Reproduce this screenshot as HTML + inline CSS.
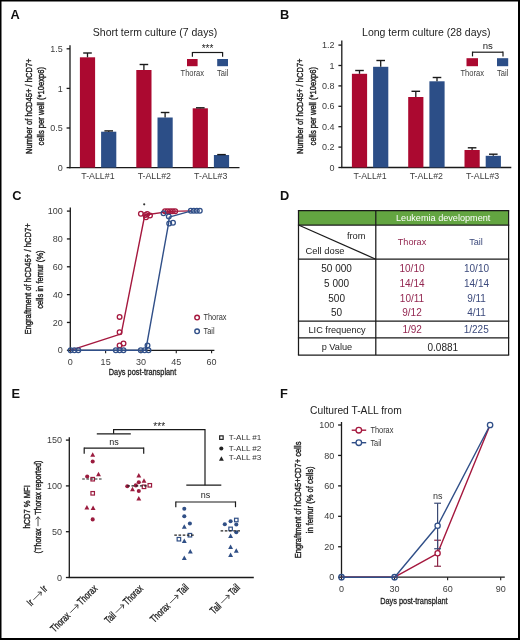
<!DOCTYPE html><html><head><meta charset="utf-8"><style>html,body{margin:0;padding:0;background:#fff;width:520px;height:640px;overflow:hidden}svg{display:block;font-family:"Liberation Sans", sans-serif;will-change:transform}</style></head><body>
<svg width="520" height="640" viewBox="0 0 520 640">
<rect x="0" y="0" width="520" height="640" fill="#fff"/>
<text transform="translate(10.6,19)" font-size="12.8" text-anchor="start" fill="#111" font-weight="bold" >A</text>
<text transform="translate(155,35.71)" font-size="10.5" text-anchor="middle" fill="#222" font-weight="normal" >Short term culture (7 days)</text>
<line x1="70" y1="45.3" x2="70" y2="168.2" stroke="#1a1a1a" stroke-width="1.3" />
<line x1="69.4" y1="167.6" x2="239.5" y2="167.6" stroke="#1a1a1a" stroke-width="1.3" />
<line x1="66.6" y1="48.8" x2="70" y2="48.8" stroke="#1a1a1a" stroke-width="1.3" />
<text transform="translate(62.7,51.9)" font-size="9" text-anchor="end" fill="#3c3c3c" font-weight="normal" >1.5</text>
<line x1="66.6" y1="88.4" x2="70" y2="88.4" stroke="#1a1a1a" stroke-width="1.3" />
<text transform="translate(62.7,91.5)" font-size="9" text-anchor="end" fill="#3c3c3c" font-weight="normal" >1</text>
<line x1="66.6" y1="128" x2="70" y2="128" stroke="#1a1a1a" stroke-width="1.3" />
<text transform="translate(62.7,131.1)" font-size="9" text-anchor="end" fill="#3c3c3c" font-weight="normal" >0.5</text>
<line x1="66.6" y1="167.6" x2="70" y2="167.6" stroke="#1a1a1a" stroke-width="1.3" />
<text transform="translate(62.7,170.7)" font-size="9" text-anchor="end" fill="#3c3c3c" font-weight="normal" >0</text>
<rect x="79.9" y="57.3" width="15.2" height="110.3" fill="#ab0930"/>
<line x1="87.5" y1="53" x2="87.5" y2="57.3" stroke="#1a1a1a" stroke-width="1.3" />
<line x1="83.2" y1="53" x2="91.8" y2="53" stroke="#1a1a1a" stroke-width="1.4" />
<rect x="101.1" y="131.7" width="15.2" height="35.9" fill="#2c4e87"/>
<line x1="108.7" y1="130.9" x2="108.7" y2="131.7" stroke="#1a1a1a" stroke-width="1.3" />
<line x1="104.4" y1="130.9" x2="113" y2="130.9" stroke="#1a1a1a" stroke-width="1.4" />
<rect x="136.3" y="70" width="15.2" height="97.6" fill="#ab0930"/>
<line x1="143.9" y1="64.5" x2="143.9" y2="70" stroke="#1a1a1a" stroke-width="1.3" />
<line x1="139.6" y1="64.5" x2="148.2" y2="64.5" stroke="#1a1a1a" stroke-width="1.4" />
<rect x="157.5" y="117.5" width="15.2" height="50.1" fill="#2c4e87"/>
<line x1="165.1" y1="112.5" x2="165.1" y2="117.5" stroke="#1a1a1a" stroke-width="1.3" />
<line x1="160.8" y1="112.5" x2="169.4" y2="112.5" stroke="#1a1a1a" stroke-width="1.4" />
<rect x="192.7" y="108.3" width="15.2" height="59.3" fill="#ab0930"/>
<line x1="200.3" y1="107.8" x2="200.3" y2="108.3" stroke="#1a1a1a" stroke-width="1.3" />
<line x1="196" y1="107.8" x2="204.6" y2="107.8" stroke="#1a1a1a" stroke-width="1.4" />
<rect x="213.9" y="155" width="15.2" height="12.6" fill="#2c4e87"/>
<line x1="221.5" y1="154.6" x2="221.5" y2="155" stroke="#1a1a1a" stroke-width="1.3" />
<line x1="217.2" y1="154.6" x2="225.8" y2="154.6" stroke="#1a1a1a" stroke-width="1.4" />
<text transform="translate(97.9,178.83)" font-size="8.8" text-anchor="middle" fill="#3c3c3c" font-weight="normal" >T-ALL#1</text>
<text transform="translate(154.3,178.83)" font-size="8.8" text-anchor="middle" fill="#3c3c3c" font-weight="normal" >T-ALL#2</text>
<text transform="translate(210.7,178.83)" font-size="8.8" text-anchor="middle" fill="#3c3c3c" font-weight="normal" >T-ALL#3</text>
<rect x="187" y="59" width="10.6" height="7.2" fill="#ab0930"/>
<rect x="217.2" y="59" width="10.8" height="7.2" fill="#2c4e87"/>
<text transform="translate(192.3,76.16) scale(0.88,1)" font-size="8.6" text-anchor="middle" fill="#3c3c3c" font-weight="normal" >Thorax</text>
<text transform="translate(222.6,76.16) scale(0.88,1)" font-size="8.6" text-anchor="middle" fill="#3c3c3c" font-weight="normal" >Tail</text>
<line x1="192.4" y1="52.5" x2="222.6" y2="52.5" stroke="#1a1a1a" stroke-width="1.2" />
<line x1="192.4" y1="51.9" x2="192.4" y2="56.8" stroke="#1a1a1a" stroke-width="1.2" />
<line x1="222.6" y1="51.9" x2="222.6" y2="56.8" stroke="#1a1a1a" stroke-width="1.2" />
<text transform="translate(207.5,51.84)" font-size="10" text-anchor="middle" fill="#222" font-weight="normal" >***</text>
<g class="" transform="translate(32.1,106.2) rotate(-90) scale(0.79,1)" fill="#222">
<text x="-60.56" y="0" font-size="9.6" stroke="#222" stroke-width="0.4">Number of hCD45+ / hCD7+</text>
</g>
<g class="" transform="translate(44.1,106.2) rotate(-90) scale(0.79,1)" fill="#222">
<text x="-49.62" y="0" font-size="9.6" stroke="#222" stroke-width="0.4">cells per well (*10exp6)</text>
</g>
<text transform="translate(280,18.8)" font-size="12.8" text-anchor="start" fill="#111" font-weight="bold" >B</text>
<text transform="translate(426.3,35.71)" font-size="10.5" text-anchor="middle" fill="#222" font-weight="normal" >Long term culture (28 days)</text>
<line x1="341.8" y1="40.5" x2="341.8" y2="168.1" stroke="#1a1a1a" stroke-width="1.3" />
<line x1="341.2" y1="167.5" x2="511.3" y2="167.5" stroke="#1a1a1a" stroke-width="1.3" />
<line x1="338.4" y1="45.1" x2="341.8" y2="45.1" stroke="#1a1a1a" stroke-width="1.3" />
<text transform="translate(334.5,48.2)" font-size="9" text-anchor="end" fill="#3c3c3c" font-weight="normal" >1.2</text>
<line x1="338.4" y1="65.5" x2="341.8" y2="65.5" stroke="#1a1a1a" stroke-width="1.3" />
<text transform="translate(334.5,68.6)" font-size="9" text-anchor="end" fill="#3c3c3c" font-weight="normal" >1</text>
<line x1="338.4" y1="85.9" x2="341.8" y2="85.9" stroke="#1a1a1a" stroke-width="1.3" />
<text transform="translate(334.5,89)" font-size="9" text-anchor="end" fill="#3c3c3c" font-weight="normal" >0.8</text>
<line x1="338.4" y1="106.3" x2="341.8" y2="106.3" stroke="#1a1a1a" stroke-width="1.3" />
<text transform="translate(334.5,109.4)" font-size="9" text-anchor="end" fill="#3c3c3c" font-weight="normal" >0.6</text>
<line x1="338.4" y1="126.7" x2="341.8" y2="126.7" stroke="#1a1a1a" stroke-width="1.3" />
<text transform="translate(334.5,129.8)" font-size="9" text-anchor="end" fill="#3c3c3c" font-weight="normal" >0.4</text>
<line x1="338.4" y1="147.1" x2="341.8" y2="147.1" stroke="#1a1a1a" stroke-width="1.3" />
<text transform="translate(334.5,150.2)" font-size="9" text-anchor="end" fill="#3c3c3c" font-weight="normal" >0.2</text>
<line x1="338.4" y1="167.5" x2="341.8" y2="167.5" stroke="#1a1a1a" stroke-width="1.3" />
<text transform="translate(334.5,170.6)" font-size="9" text-anchor="end" fill="#3c3c3c" font-weight="normal" >0</text>
<rect x="351.9" y="73.8" width="15.2" height="93.7" fill="#ab0930"/>
<line x1="359.5" y1="70.5" x2="359.5" y2="73.8" stroke="#1a1a1a" stroke-width="1.3" />
<line x1="355.2" y1="70.5" x2="363.8" y2="70.5" stroke="#1a1a1a" stroke-width="1.4" />
<rect x="373.1" y="66.8" width="15.2" height="100.7" fill="#2c4e87"/>
<line x1="380.7" y1="60.5" x2="380.7" y2="66.8" stroke="#1a1a1a" stroke-width="1.3" />
<line x1="376.4" y1="60.5" x2="385" y2="60.5" stroke="#1a1a1a" stroke-width="1.4" />
<rect x="408.2" y="97" width="15.2" height="70.5" fill="#ab0930"/>
<line x1="415.8" y1="91.3" x2="415.8" y2="97" stroke="#1a1a1a" stroke-width="1.3" />
<line x1="411.5" y1="91.3" x2="420.1" y2="91.3" stroke="#1a1a1a" stroke-width="1.4" />
<rect x="429.4" y="81.3" width="15.2" height="86.2" fill="#2c4e87"/>
<line x1="437" y1="77.5" x2="437" y2="81.3" stroke="#1a1a1a" stroke-width="1.3" />
<line x1="432.7" y1="77.5" x2="441.3" y2="77.5" stroke="#1a1a1a" stroke-width="1.4" />
<rect x="464.5" y="150" width="15.2" height="17.5" fill="#ab0930"/>
<line x1="472.1" y1="147.8" x2="472.1" y2="150" stroke="#1a1a1a" stroke-width="1.3" />
<line x1="467.8" y1="147.8" x2="476.4" y2="147.8" stroke="#1a1a1a" stroke-width="1.4" />
<rect x="485.7" y="155.8" width="15.2" height="11.7" fill="#2c4e87"/>
<line x1="493.3" y1="154.2" x2="493.3" y2="155.8" stroke="#1a1a1a" stroke-width="1.3" />
<line x1="489" y1="154.2" x2="497.6" y2="154.2" stroke="#1a1a1a" stroke-width="1.4" />
<text transform="translate(370,178.83)" font-size="8.8" text-anchor="middle" fill="#3c3c3c" font-weight="normal" >T-ALL#1</text>
<text transform="translate(426.3,178.83)" font-size="8.8" text-anchor="middle" fill="#3c3c3c" font-weight="normal" >T-ALL#2</text>
<text transform="translate(482.6,178.83)" font-size="8.8" text-anchor="middle" fill="#3c3c3c" font-weight="normal" >T-ALL#3</text>
<rect x="466.5" y="58.2" width="11.5" height="8" fill="#ab0930"/>
<rect x="497" y="58.2" width="11.2" height="8" fill="#2c4e87"/>
<text transform="translate(472.25,75.56) scale(0.88,1)" font-size="8.6" text-anchor="middle" fill="#3c3c3c" font-weight="normal" >Thorax</text>
<text transform="translate(502.6,75.56) scale(0.88,1)" font-size="8.6" text-anchor="middle" fill="#3c3c3c" font-weight="normal" >Tail</text>
<line x1="472.5" y1="52.2" x2="503" y2="52.2" stroke="#1a1a1a" stroke-width="1.2" />
<line x1="472.5" y1="51.6" x2="472.5" y2="56.4" stroke="#1a1a1a" stroke-width="1.2" />
<line x1="503" y1="51.6" x2="503" y2="56.4" stroke="#1a1a1a" stroke-width="1.2" />
<text transform="translate(487.75,48.73)" font-size="9.6" text-anchor="middle" fill="#222" font-weight="normal" >ns</text>
<g class="" transform="translate(303.1,106.2) rotate(-90) scale(0.79,1)" fill="#222">
<text x="-60.56" y="0" font-size="9.6" stroke="#222" stroke-width="0.4">Number of hCD45+ / hCD7+</text>
</g>
<g class="" transform="translate(316.1,106.2) rotate(-90) scale(0.79,1)" fill="#222">
<text x="-49.62" y="0" font-size="9.6" stroke="#222" stroke-width="0.4">cells per well (*10exp6)</text>
</g>
<text transform="translate(12.2,200)" font-size="12.8" text-anchor="start" fill="#111" font-weight="bold" >C</text>
<line x1="70.3" y1="207.4" x2="70.3" y2="350.9" stroke="#1a1a1a" stroke-width="1.3" />
<line x1="69.7" y1="350.3" x2="214.4" y2="350.3" stroke="#1a1a1a" stroke-width="1.3" />
<line x1="66.9" y1="350.3" x2="70.3" y2="350.3" stroke="#1a1a1a" stroke-width="1.3" />
<text transform="translate(62.7,353.4)" font-size="9" text-anchor="end" fill="#3c3c3c" font-weight="normal" >0</text>
<line x1="66.9" y1="322.46" x2="70.3" y2="322.46" stroke="#1a1a1a" stroke-width="1.3" />
<text transform="translate(62.7,325.56)" font-size="9" text-anchor="end" fill="#3c3c3c" font-weight="normal" >20</text>
<line x1="66.9" y1="294.62" x2="70.3" y2="294.62" stroke="#1a1a1a" stroke-width="1.3" />
<text transform="translate(62.7,297.72)" font-size="9" text-anchor="end" fill="#3c3c3c" font-weight="normal" >40</text>
<line x1="66.9" y1="266.78" x2="70.3" y2="266.78" stroke="#1a1a1a" stroke-width="1.3" />
<text transform="translate(62.7,269.88)" font-size="9" text-anchor="end" fill="#3c3c3c" font-weight="normal" >60</text>
<line x1="66.9" y1="238.94" x2="70.3" y2="238.94" stroke="#1a1a1a" stroke-width="1.3" />
<text transform="translate(62.7,242.04)" font-size="9" text-anchor="end" fill="#3c3c3c" font-weight="normal" >80</text>
<line x1="66.9" y1="211.1" x2="70.3" y2="211.1" stroke="#1a1a1a" stroke-width="1.3" />
<text transform="translate(62.7,214.2)" font-size="9" text-anchor="end" fill="#3c3c3c" font-weight="normal" >100</text>
<line x1="70.3" y1="350.3" x2="70.3" y2="353.3" stroke="#1a1a1a" stroke-width="1.1" />
<text transform="translate(70.3,364.7)" font-size="9" text-anchor="middle" fill="#3c3c3c" font-weight="normal" >0</text>
<line x1="105.62" y1="350.3" x2="105.62" y2="353.3" stroke="#1a1a1a" stroke-width="1.1" />
<text transform="translate(105.62,364.7)" font-size="9" text-anchor="middle" fill="#3c3c3c" font-weight="normal" >15</text>
<line x1="140.95" y1="350.3" x2="140.95" y2="353.3" stroke="#1a1a1a" stroke-width="1.1" />
<text transform="translate(140.95,364.7)" font-size="9" text-anchor="middle" fill="#3c3c3c" font-weight="normal" >30</text>
<line x1="176.27" y1="350.3" x2="176.27" y2="353.3" stroke="#1a1a1a" stroke-width="1.1" />
<text transform="translate(176.27,364.7)" font-size="9" text-anchor="middle" fill="#3c3c3c" font-weight="normal" >45</text>
<line x1="211.6" y1="350.3" x2="211.6" y2="353.3" stroke="#1a1a1a" stroke-width="1.1" />
<text transform="translate(211.6,364.7)" font-size="9" text-anchor="middle" fill="#3c3c3c" font-weight="normal" >60</text>
<text transform="translate(142.5,374.76) scale(0.8,1)" font-size="9.2" text-anchor="middle" fill="#222" font-weight="normal"  stroke="#222" stroke-width="0.3">Days post-transplant</text>
<g class="" transform="translate(30.8,278.9) rotate(-90) scale(0.8,1)" fill="#222">
<text x="-69.64" y="0" font-size="9.6" stroke="#222" stroke-width="0.4">Engraftment of hCD45+ / hCD7+</text>
</g>
<g class="" transform="translate(43.2,279.6) rotate(-90) scale(0.79,1)" fill="#222">
<text x="-37.07" y="0" font-size="9.6" stroke="#222" stroke-width="0.4">cells in femur (%)</text>
</g>
<polyline points="70.3,350.3 121.2,333.8 144.8,215 170,211.4 191.5,210.9" fill="none" stroke="#a5183e" stroke-width="1.4" stroke-linejoin="round"/>
<polyline points="70.3,350.3 145,350.3 146,348.8 168.6,223.3 169.2,217.2 191.5,210.9" fill="none" stroke="#304f88" stroke-width="1.4" stroke-linejoin="round"/>
<circle cx="119.6" cy="316.9" r="2.35" fill="none" stroke="#a5183e" stroke-width="1.3"/>
<circle cx="119.6" cy="332.3" r="2.35" fill="none" stroke="#a5183e" stroke-width="1.3"/>
<circle cx="119.6" cy="345.4" r="2.35" fill="none" stroke="#a5183e" stroke-width="1.3"/>
<circle cx="123.5" cy="343.5" r="2.35" fill="none" stroke="#a5183e" stroke-width="1.3"/>
<circle cx="140.9" cy="213.8" r="2.35" fill="none" stroke="#a5183e" stroke-width="1.3"/>
<circle cx="145.4" cy="215" r="2.35" fill="none" stroke="#a5183e" stroke-width="1.3"/>
<circle cx="147.2" cy="214" r="2.35" fill="none" stroke="#a5183e" stroke-width="1.3"/>
<circle cx="150" cy="215.6" r="2.35" fill="none" stroke="#a5183e" stroke-width="1.3"/>
<circle cx="146" cy="217.2" r="2.35" fill="none" stroke="#a5183e" stroke-width="1.3"/>
<circle cx="165" cy="211.2" r="2.35" fill="none" stroke="#a5183e" stroke-width="1.3"/>
<circle cx="167.6" cy="211.2" r="2.35" fill="none" stroke="#a5183e" stroke-width="1.3"/>
<circle cx="170.2" cy="211.2" r="2.35" fill="none" stroke="#a5183e" stroke-width="1.3"/>
<circle cx="172.8" cy="211.2" r="2.35" fill="none" stroke="#a5183e" stroke-width="1.3"/>
<circle cx="175.2" cy="211.2" r="2.35" fill="none" stroke="#a5183e" stroke-width="1.3"/>
<circle cx="70.6" cy="350.3" r="2.35" fill="none" stroke="#304f88" stroke-width="1.3"/>
<circle cx="74.4" cy="350.3" r="2.35" fill="none" stroke="#304f88" stroke-width="1.3"/>
<circle cx="78.3" cy="350.3" r="2.35" fill="none" stroke="#304f88" stroke-width="1.3"/>
<circle cx="115.8" cy="350.3" r="2.35" fill="none" stroke="#304f88" stroke-width="1.3"/>
<circle cx="119.6" cy="350.3" r="2.35" fill="none" stroke="#304f88" stroke-width="1.3"/>
<circle cx="123.5" cy="350.3" r="2.35" fill="none" stroke="#304f88" stroke-width="1.3"/>
<circle cx="140.8" cy="350.3" r="2.35" fill="none" stroke="#304f88" stroke-width="1.3"/>
<circle cx="144.6" cy="350.3" r="2.35" fill="none" stroke="#304f88" stroke-width="1.3"/>
<circle cx="148.5" cy="350.3" r="2.35" fill="none" stroke="#304f88" stroke-width="1.3"/>
<circle cx="147.5" cy="345.4" r="2.35" fill="none" stroke="#304f88" stroke-width="1.3"/>
<circle cx="163.5" cy="213.2" r="2.35" fill="none" stroke="#304f88" stroke-width="1.3"/>
<circle cx="168.8" cy="216.5" r="2.35" fill="none" stroke="#304f88" stroke-width="1.3"/>
<circle cx="169.2" cy="223.5" r="2.35" fill="none" stroke="#304f88" stroke-width="1.3"/>
<circle cx="173" cy="222.7" r="2.35" fill="none" stroke="#304f88" stroke-width="1.3"/>
<circle cx="190.8" cy="210.8" r="2.35" fill="none" stroke="#304f88" stroke-width="1.3"/>
<circle cx="193.8" cy="210.8" r="2.35" fill="none" stroke="#304f88" stroke-width="1.3"/>
<circle cx="196.8" cy="210.8" r="2.35" fill="none" stroke="#304f88" stroke-width="1.3"/>
<circle cx="199.8" cy="210.8" r="2.35" fill="none" stroke="#304f88" stroke-width="1.3"/>
<circle cx="144.2" cy="204.3" r="1.1" fill="#333"/>
<circle cx="197.1" cy="317.6" r="2.3" fill="none" stroke="#a5183e" stroke-width="1.4"/>
<text transform="translate(203.5,320.09) scale(0.88,1)" font-size="8.4" text-anchor="start" fill="#333" font-weight="normal" >Thorax</text>
<circle cx="197.1" cy="331.3" r="2.3" fill="none" stroke="#304f88" stroke-width="1.4"/>
<text transform="translate(203.5,334.09) scale(0.88,1)" font-size="8.4" text-anchor="start" fill="#333" font-weight="normal" >Tail</text>
<text transform="translate(280,200)" font-size="12.8" text-anchor="start" fill="#111" font-weight="bold" >D</text>
<rect x="298.5" y="210.5" width="210.1" height="14.5" fill="#63a541"/>
<line x1="297.9" y1="210.5" x2="509.2" y2="210.5" stroke="#1a1a1a" stroke-width="1.25" />
<line x1="297.9" y1="225" x2="509.2" y2="225" stroke="#1a1a1a" stroke-width="1.25" />
<line x1="297.9" y1="259.2" x2="509.2" y2="259.2" stroke="#1a1a1a" stroke-width="1.25" />
<line x1="297.9" y1="321.1" x2="509.2" y2="321.1" stroke="#1a1a1a" stroke-width="1.25" />
<line x1="297.9" y1="337.8" x2="509.2" y2="337.8" stroke="#1a1a1a" stroke-width="1.25" />
<line x1="297.9" y1="355" x2="509.2" y2="355" stroke="#1a1a1a" stroke-width="1.25" />
<line x1="298.5" y1="210.5" x2="298.5" y2="355" stroke="#1a1a1a" stroke-width="1.25" />
<line x1="508.6" y1="210.5" x2="508.6" y2="355" stroke="#1a1a1a" stroke-width="1.25" />
<line x1="375.8" y1="210.5" x2="375.8" y2="355" stroke="#1a1a1a" stroke-width="1.25" />
<line x1="298.5" y1="225" x2="375.8" y2="259.2" stroke="#1a1a1a" stroke-width="1.25" />
<text transform="translate(443.2,220.55)" font-size="9.15" text-anchor="middle" fill="#fff" font-weight="normal" >Leukemia development</text>
<text transform="translate(356.2,238.6)" font-size="9.3" text-anchor="middle" fill="#222" font-weight="normal" >from</text>
<text transform="translate(325,254.13)" font-size="9.4" text-anchor="middle" fill="#222" font-weight="normal" >Cell dose</text>
<text transform="translate(412,245.35)" font-size="9.15" text-anchor="middle" fill="#932650" font-weight="normal" >Thorax</text>
<text transform="translate(476,245.35)" font-size="9.15" text-anchor="middle" fill="#3c4a7c" font-weight="normal" >Tail</text>
<text transform="translate(336.6,272.44)" font-size="10" text-anchor="middle" fill="#222" font-weight="normal" >50 000</text>
<text transform="translate(412,272.44)" font-size="10" text-anchor="middle" fill="#932650" font-weight="normal" >10/10</text>
<text transform="translate(476.5,272.44)" font-size="10" text-anchor="middle" fill="#3c4a7c" font-weight="normal" >10/10</text>
<text transform="translate(336.6,287.04)" font-size="10" text-anchor="middle" fill="#222" font-weight="normal" >5 000</text>
<text transform="translate(412,287.04)" font-size="10" text-anchor="middle" fill="#932650" font-weight="normal" >14/14</text>
<text transform="translate(476.5,287.04)" font-size="10" text-anchor="middle" fill="#3c4a7c" font-weight="normal" >14/14</text>
<text transform="translate(336.6,301.74)" font-size="10" text-anchor="middle" fill="#222" font-weight="normal" >500</text>
<text transform="translate(412,301.74)" font-size="10" text-anchor="middle" fill="#932650" font-weight="normal" >10/11</text>
<text transform="translate(476.5,301.74)" font-size="10" text-anchor="middle" fill="#3c4a7c" font-weight="normal" >9/11</text>
<text transform="translate(336.6,315.74)" font-size="10" text-anchor="middle" fill="#222" font-weight="normal" >50</text>
<text transform="translate(412,315.74)" font-size="10" text-anchor="middle" fill="#932650" font-weight="normal" >9/12</text>
<text transform="translate(476.5,315.74)" font-size="10" text-anchor="middle" fill="#3c4a7c" font-weight="normal" >4/11</text>
<text transform="translate(337.1,332.56)" font-size="9.2" text-anchor="middle" fill="#222" font-weight="normal" >LIC frequency</text>
<text transform="translate(412.2,333.44)" font-size="10" text-anchor="middle" fill="#932650" font-weight="normal" >1/92</text>
<text transform="translate(476.2,333.44)" font-size="10" text-anchor="middle" fill="#3c4a7c" font-weight="normal" >1/225</text>
<text transform="translate(336.9,350.16)" font-size="9.2" text-anchor="middle" fill="#222" font-weight="normal" >p Value</text>
<text transform="translate(442.8,351.24)" font-size="10" text-anchor="middle" fill="#222" font-weight="normal" >0.0881</text>
<text transform="translate(11.4,398.2)" font-size="12.8" text-anchor="start" fill="#111" font-weight="bold" >E</text>
<line x1="69.3" y1="437.3" x2="69.3" y2="578.1" stroke="#1a1a1a" stroke-width="1.3" />
<line x1="68.7" y1="577.5" x2="253.8" y2="577.5" stroke="#1a1a1a" stroke-width="1.3" />
<line x1="65.9" y1="577.5" x2="69.3" y2="577.5" stroke="#1a1a1a" stroke-width="1.3" />
<text transform="translate(62,580.6)" font-size="9" text-anchor="end" fill="#3c3c3c" font-weight="normal" >0</text>
<line x1="65.9" y1="531.7" x2="69.3" y2="531.7" stroke="#1a1a1a" stroke-width="1.3" />
<text transform="translate(62,534.8)" font-size="9" text-anchor="end" fill="#3c3c3c" font-weight="normal" >50</text>
<line x1="65.9" y1="485.9" x2="69.3" y2="485.9" stroke="#1a1a1a" stroke-width="1.3" />
<text transform="translate(62,489)" font-size="9" text-anchor="end" fill="#3c3c3c" font-weight="normal" >100</text>
<line x1="65.9" y1="440.1" x2="69.3" y2="440.1" stroke="#1a1a1a" stroke-width="1.3" />
<text transform="translate(62,443.2)" font-size="9" text-anchor="end" fill="#3c3c3c" font-weight="normal" >150</text>
<g class="" transform="translate(29.7,506.9) rotate(-90) scale(0.79,1)" fill="#222">
<text x="-27.47" y="0" font-size="9.6" stroke="#222" stroke-width="0.4">hCD7 % MFI</text>
</g>
<g class="" transform="translate(40.9,506.9) rotate(-90) scale(0.76,1)" fill="#222">
<text x="-61.17" y="0" font-size="9.6" stroke="#222" stroke-width="0.4">(Thorax</text>
<path d="M-25.46,-2.88 H-12.96 M-16.38,-5.28 L-12.96,-2.88 L-16.38,-0.48" fill="none" stroke="#222" stroke-width="0.9"/>
<text x="-10.33" y="0" font-size="9.6" stroke="#222" stroke-width="0.4">Thorax reported)</text>
</g>
<line x1="96.8" y1="433.8" x2="130.8" y2="433.8" stroke="#1a1a1a" stroke-width="1.2" />
<line x1="113.6" y1="433.8" x2="113.6" y2="429.6" stroke="#1a1a1a" stroke-width="1.2" />
<line x1="113" y1="429.6" x2="205" y2="429.6" stroke="#1a1a1a" stroke-width="1.2" />
<line x1="205" y1="429" x2="205" y2="485.2" stroke="#1a1a1a" stroke-width="1.2" />
<line x1="186.3" y1="485.2" x2="221.3" y2="485.2" stroke="#1a1a1a" stroke-width="1.2" />
<text transform="translate(159.2,429.74)" font-size="10" text-anchor="middle" fill="#222" font-weight="normal" >***</text>
<line x1="84.2" y1="448.2" x2="143.7" y2="448.2" stroke="#1a1a1a" stroke-width="1.2" />
<line x1="84.2" y1="447.6" x2="84.2" y2="453.8" stroke="#1a1a1a" stroke-width="1.2" />
<line x1="143.7" y1="447.6" x2="143.7" y2="453.8" stroke="#1a1a1a" stroke-width="1.2" />
<text transform="translate(114,444.58)" font-size="9" text-anchor="middle" fill="#222" font-weight="normal" >ns</text>
<line x1="175.8" y1="502" x2="235.5" y2="502" stroke="#1a1a1a" stroke-width="1.2" />
<line x1="175.8" y1="501.4" x2="175.8" y2="507.2" stroke="#1a1a1a" stroke-width="1.2" />
<line x1="235.5" y1="501.4" x2="235.5" y2="507.2" stroke="#1a1a1a" stroke-width="1.2" />
<text transform="translate(205.5,497.98)" font-size="9" text-anchor="middle" fill="#222" font-weight="normal" >ns</text>
<polygon points="92.7,452.3 95.15,456.8 90.25,456.8" fill="#9b1b3e"/>
<circle cx="92.7" cy="461.5" r="2.05" fill="#9b1b3e"/>
<circle cx="87.2" cy="476.5" r="2.05" fill="#9b1b3e"/>
<polygon points="98.5,471.7 100.95,476.2 96.05,476.2" fill="#9b1b3e"/>
<rect x="90.95" y="477.45" width="3.5" height="3.5" fill="#fff" stroke="#9b1b3e" stroke-width="1.2"/>
<rect x="90.95" y="491.55" width="3.5" height="3.5" fill="#fff" stroke="#9b1b3e" stroke-width="1.2"/>
<polygon points="86.9,505 89.35,509.5 84.45,509.5" fill="#9b1b3e"/>
<polygon points="93.1,505.5 95.55,510 90.65,510" fill="#9b1b3e"/>
<circle cx="92.7" cy="519.4" r="2.05" fill="#9b1b3e"/>
<polygon points="138.8,472.9 141.25,477.4 136.35,477.4" fill="#9b1b3e"/>
<circle cx="138.8" cy="482.3" r="2.05" fill="#9b1b3e"/>
<polygon points="144,478.3 146.45,482.8 141.55,482.8" fill="#9b1b3e"/>
<circle cx="127.3" cy="486.2" r="2.05" fill="#9b1b3e"/>
<circle cx="135.8" cy="485.4" r="2.05" fill="#9b1b3e"/>
<polygon points="132.5,486.7 134.95,491.2 130.05,491.2" fill="#9b1b3e"/>
<rect x="142.25" y="485.05" width="3.5" height="3.5" fill="#fff" stroke="#9b1b3e" stroke-width="1.2"/>
<rect x="148.05" y="483.55" width="3.5" height="3.5" fill="#fff" stroke="#9b1b3e" stroke-width="1.2"/>
<circle cx="138.8" cy="491" r="2.05" fill="#9b1b3e"/>
<polygon points="138.8,496 141.25,500.5 136.35,500.5" fill="#9b1b3e"/>
<circle cx="184.3" cy="508.7" r="2.05" fill="#304f86"/>
<circle cx="184.3" cy="516.2" r="2.05" fill="#304f86"/>
<circle cx="189.9" cy="523.5" r="2.05" fill="#304f86"/>
<polygon points="184.3,524.3 186.75,528.8 181.85,528.8" fill="#304f86"/>
<rect x="188.15" y="533.45" width="3.5" height="3.5" fill="#fff" stroke="#304f86" stroke-width="1.2"/>
<rect x="177.15" y="537.45" width="3.5" height="3.5" fill="#fff" stroke="#304f86" stroke-width="1.2"/>
<polygon points="184.3,538.6 186.75,543.1 181.85,543.1" fill="#304f86"/>
<polygon points="190.3,549.1 192.75,553.6 187.85,553.6" fill="#304f86"/>
<polygon points="184.3,555.5 186.75,560 181.85,560" fill="#304f86"/>
<circle cx="224.8" cy="524.2" r="2.05" fill="#304f86"/>
<circle cx="230.6" cy="521.2" r="2.05" fill="#304f86"/>
<rect x="234.55" y="518.25" width="3.5" height="3.5" fill="#fff" stroke="#304f86" stroke-width="1.2"/>
<circle cx="236.3" cy="524.5" r="2.05" fill="#304f86"/>
<rect x="228.85" y="527.15" width="3.5" height="3.5" fill="#fff" stroke="#304f86" stroke-width="1.2"/>
<circle cx="236.3" cy="532.2" r="2.05" fill="#304f86"/>
<polygon points="230.6,533.5 233.05,538 228.15,538" fill="#304f86"/>
<polygon points="230.6,544.4 233.05,548.9 228.15,548.9" fill="#304f86"/>
<polygon points="236.3,548.3 238.75,552.8 233.85,552.8" fill="#304f86"/>
<polygon points="230.6,552.5 233.05,557 228.15,557" fill="#304f86"/>
<line x1="82.2" y1="479" x2="102.8" y2="479" stroke="#222" stroke-width="1.2" stroke-dasharray="2.6,1.6"/>
<line x1="127.3" y1="485.8" x2="147.2" y2="485.8" stroke="#222" stroke-width="1.2" stroke-dasharray="2.6,1.6"/>
<line x1="174.3" y1="535.2" x2="194.8" y2="535.2" stroke="#222" stroke-width="1.2" stroke-dasharray="2.6,1.6"/>
<line x1="220.6" y1="530.9" x2="240.6" y2="530.9" stroke="#222" stroke-width="1.2" stroke-dasharray="2.6,1.6"/>
<rect x="219.65" y="435.85" width="3.5" height="3.5" fill="#fff" stroke="#222" stroke-width="1.2"/>
<circle cx="221.3" cy="448.5" r="2.05" fill="#222"/>
<polygon points="221.4,456.3 223.85,460.8 218.95,460.8" fill="#222"/>
<text transform="translate(228.8,440.19)" font-size="8.1" text-anchor="start" fill="#333" font-weight="normal" >T-ALL #1</text>
<text transform="translate(228.8,450.99)" font-size="8.1" text-anchor="start" fill="#333" font-weight="normal" >T-ALL #2</text>
<text transform="translate(228.8,460.49)" font-size="8.1" text-anchor="start" fill="#333" font-weight="normal" >T-ALL #3</text>
<g class="rl rl0" transform="translate(48.1,589.6) rotate(-45) scale(0.72,1)" fill="#222">
<text x="-33.54" y="0" font-size="10.4" stroke="#222" stroke-width="0.3">Ir</text>
<path d="M-24.41,-3.12 H-9.13 M-12.74,-5.52 L-9.13,-3.12 L-12.74,-0.72" fill="none" stroke="#222" stroke-width="0.9"/>
<text x="-6.35" y="0" font-size="10.4" stroke="#222" stroke-width="0.3">Ir</text>
</g>
<g class="rl rl1" transform="translate(98.1,589.2) rotate(-45) scale(0.72,1)" fill="#222">
<text x="-85.57" y="0" font-size="10.4" stroke="#222" stroke-width="0.3">Thorax</text>
<path d="M-50.42,-3.12 H-35.15 M-38.76,-5.52 L-35.15,-3.12 L-38.76,-0.72" fill="none" stroke="#222" stroke-width="0.9"/>
<text x="-32.37" y="0" font-size="10.4" stroke="#222" stroke-width="0.3">Thorax</text>
</g>
<g class="rl rl2" transform="translate(143.7,589.2) rotate(-45) scale(0.72,1)" fill="#222">
<text x="-68.81" y="0" font-size="10.4" stroke="#222" stroke-width="0.3">Tail</text>
<path d="M-50.42,-3.12 H-35.15 M-38.76,-5.52 L-35.15,-3.12 L-38.76,-0.72" fill="none" stroke="#222" stroke-width="0.9"/>
<text x="-32.37" y="0" font-size="10.4" stroke="#222" stroke-width="0.3">Thorax</text>
</g>
<g class="rl rl3" transform="translate(189.4,588.2) rotate(-45) scale(0.72,1)" fill="#222">
<text x="-68.81" y="0" font-size="10.4" stroke="#222" stroke-width="0.3">Thorax</text>
<path d="M-33.66,-3.12 H-18.38 M-21.99,-5.52 L-18.38,-3.12 L-21.99,-0.72" fill="none" stroke="#222" stroke-width="0.9"/>
<text x="-15.61" y="0" font-size="10.4" stroke="#222" stroke-width="0.3">Tail</text>
</g>
<g class="rl rl4" transform="translate(240.6,588.2) rotate(-45) scale(0.72,1)" fill="#222">
<text x="-52.04" y="0" font-size="10.4" stroke="#222" stroke-width="0.3">Tail</text>
<path d="M-33.66,-3.12 H-18.38 M-21.99,-5.52 L-18.38,-3.12 L-21.99,-0.72" fill="none" stroke="#222" stroke-width="0.9"/>
<text x="-15.61" y="0" font-size="10.4" stroke="#222" stroke-width="0.3">Tail</text>
</g>
<text transform="translate(280,398.2)" font-size="12.8" text-anchor="start" fill="#111" font-weight="bold" >F</text>
<text transform="translate(355.9,413.83)" font-size="10.25" text-anchor="middle" fill="#222" font-weight="normal" >Cultured T-ALL from</text>
<line x1="341.5" y1="422" x2="341.5" y2="577.8" stroke="#1a1a1a" stroke-width="1.3" />
<line x1="340.9" y1="577.2" x2="504.8" y2="577.2" stroke="#1a1a1a" stroke-width="1.3" />
<line x1="338.1" y1="577.2" x2="341.5" y2="577.2" stroke="#1a1a1a" stroke-width="1.3" />
<text transform="translate(334.2,580.3)" font-size="9" text-anchor="end" fill="#3c3c3c" font-weight="normal" >0</text>
<line x1="338.1" y1="546.76" x2="341.5" y2="546.76" stroke="#1a1a1a" stroke-width="1.3" />
<text transform="translate(334.2,549.86)" font-size="9" text-anchor="end" fill="#3c3c3c" font-weight="normal" >20</text>
<line x1="338.1" y1="516.32" x2="341.5" y2="516.32" stroke="#1a1a1a" stroke-width="1.3" />
<text transform="translate(334.2,519.42)" font-size="9" text-anchor="end" fill="#3c3c3c" font-weight="normal" >40</text>
<line x1="338.1" y1="485.88" x2="341.5" y2="485.88" stroke="#1a1a1a" stroke-width="1.3" />
<text transform="translate(334.2,488.98)" font-size="9" text-anchor="end" fill="#3c3c3c" font-weight="normal" >60</text>
<line x1="338.1" y1="455.44" x2="341.5" y2="455.44" stroke="#1a1a1a" stroke-width="1.3" />
<text transform="translate(334.2,458.54)" font-size="9" text-anchor="end" fill="#3c3c3c" font-weight="normal" >80</text>
<line x1="338.1" y1="425" x2="341.5" y2="425" stroke="#1a1a1a" stroke-width="1.3" />
<text transform="translate(334.2,428.1)" font-size="9" text-anchor="end" fill="#3c3c3c" font-weight="normal" >100</text>
<line x1="341.5" y1="577.2" x2="341.5" y2="580.2" stroke="#1a1a1a" stroke-width="1.1" />
<text transform="translate(341.5,591.7)" font-size="9" text-anchor="middle" fill="#3c3c3c" font-weight="normal" >0</text>
<line x1="394.57" y1="577.2" x2="394.57" y2="580.2" stroke="#1a1a1a" stroke-width="1.1" />
<text transform="translate(394.57,591.7)" font-size="9" text-anchor="middle" fill="#3c3c3c" font-weight="normal" >30</text>
<line x1="447.63" y1="577.2" x2="447.63" y2="580.2" stroke="#1a1a1a" stroke-width="1.1" />
<text transform="translate(447.63,591.7)" font-size="9" text-anchor="middle" fill="#3c3c3c" font-weight="normal" >60</text>
<line x1="500.7" y1="577.2" x2="500.7" y2="580.2" stroke="#1a1a1a" stroke-width="1.1" />
<text transform="translate(500.7,591.7)" font-size="9" text-anchor="middle" fill="#3c3c3c" font-weight="normal" >90</text>
<text transform="translate(413.9,603.96) scale(0.8,1)" font-size="9.2" text-anchor="middle" fill="#222" font-weight="normal"  stroke="#222" stroke-width="0.3">Days post-transplant</text>
<g class="" transform="translate(301.2,499.8) rotate(-90) scale(0.79,1)" fill="#222">
<text x="-73.9" y="0" font-size="9.6" stroke="#222" stroke-width="0.4">Engraftment of hCD45+CD7+ cells</text>
</g>
<g class="" transform="translate(313,499.8) rotate(-90) scale(0.79,1)" fill="#222">
<text x="-42.41" y="0" font-size="9.6" stroke="#222" stroke-width="0.4">in femur (% of cells)</text>
</g>
<polyline points="341.5,577.2 394.57,577.2 437.6,553.3 490.09,425" fill="none" stroke="#a5183e" stroke-width="1.4" stroke-linejoin="round"/>
<polyline points="341.5,577.2 394.57,577.2 437.6,525.76 490.09,425" fill="none" stroke="#304f88" stroke-width="1.4" stroke-linejoin="round"/>
<line x1="437.6" y1="540.22" x2="437.6" y2="566.24" stroke="#8c2747" stroke-width="1.2" />
<line x1="434.2" y1="540.22" x2="441" y2="540.22" stroke="#8c2747" stroke-width="1.2" />
<line x1="434.2" y1="566.24" x2="441" y2="566.24" stroke="#8c2747" stroke-width="1.2" />
<line x1="437.6" y1="503.23" x2="437.6" y2="548.74" stroke="#3a4a74" stroke-width="1.2" />
<line x1="434.2" y1="503.23" x2="441" y2="503.23" stroke="#3a4a74" stroke-width="1.2" />
<line x1="434.2" y1="548.74" x2="441" y2="548.74" stroke="#3a4a74" stroke-width="1.2" />
<circle cx="437.6" cy="553.3" r="2.6" fill="#fff" stroke="#a5183e" stroke-width="1.3"/>
<circle cx="437.6" cy="525.76" r="2.6" fill="#fff" stroke="#304f88" stroke-width="1.3"/>
<circle cx="341.5" cy="577.2" r="2.7" fill="none" stroke="#304f88" stroke-width="1.3"/>
<circle cx="394.57" cy="577.2" r="2.7" fill="none" stroke="#304f88" stroke-width="1.3"/>
<circle cx="490.09" cy="425" r="2.7" fill="#fff" stroke="#304f88" stroke-width="1.3"/>
<text transform="translate(437.8,498.58)" font-size="9" text-anchor="middle" fill="#333" font-weight="normal" >ns</text>
<line x1="351.7" y1="430.2" x2="366.2" y2="430.2" stroke="#a5183e" stroke-width="1.4" />
<circle cx="358.8" cy="430.2" r="2.8" fill="#fff" stroke="#a5183e" stroke-width="1.3"/>
<text transform="translate(370.4,433.16) scale(0.86,1)" font-size="8.6" text-anchor="start" fill="#333" font-weight="normal" >Thorax</text>
<line x1="351.7" y1="442.7" x2="366.2" y2="442.7" stroke="#304f88" stroke-width="1.4" />
<circle cx="358.8" cy="442.7" r="2.8" fill="#fff" stroke="#304f88" stroke-width="1.3"/>
<text transform="translate(370.4,445.66) scale(0.86,1)" font-size="8.6" text-anchor="start" fill="#333" font-weight="normal" >Tail</text>
<path d="M0,0H520V640H0Z M1.5,1.5V638H518V1.5Z" fill="#000" fill-rule="evenodd"/>
</svg></body></html>
